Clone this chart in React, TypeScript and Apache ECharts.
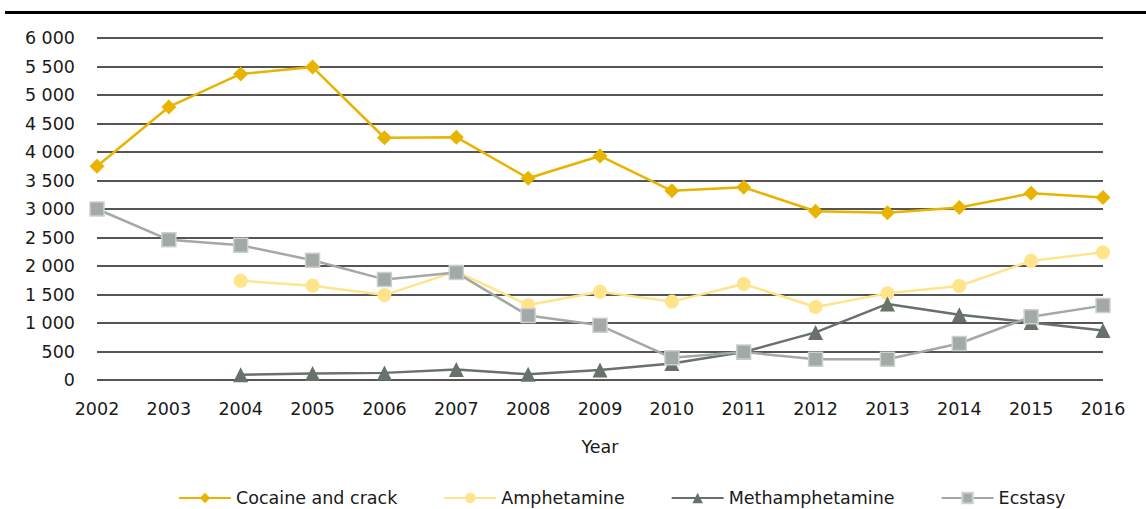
import React, { useEffect, useRef } from "react";
import * as echarts from "echarts";

const years = ["2002", "2003", "2004", "2005", "2006", "2007", "2008", "2009", "2010", "2011", "2012", "2013", "2014", "2015", "2016"];
const cocaine = [3750, 4790, 5370, 5490, 4250, 4260, 3540, 3930, 3320, 3380, 2960, 2935, 3025, 3275, 3200];
const amphetamine = [null, null, 1740, 1655, 1490, 1905, 1315, 1550, 1375, 1685, 1280, 1520, 1650, 2090, 2240];
const methamphetamine = [null, null, 90, 115, 125, 185, 100, 175, 290, 490, 835, 1335, 1145, 1010, 870];
const ecstasy = [3000, 2460, 2365, 2100, 1765, 1885, 1130, 960, 390, 490, 365, 365, 640, 1110, 1305];

const FONT = "DejaVu Sans";

export default function App() {
  const ref = useRef<HTMLDivElement>(null);
  useEffect(() => {
    if (!ref.current) return;
    const chart = echarts.init(ref.current, null, { renderer: "svg" });
    chart.setOption({
      animation: false,
      backgroundColor: "#ffffff",
      textStyle: { fontFamily: FONT },
      graphic: [
        {
          type: "rect",
          left: 5,
          top: 11,
          shape: { width: 1141, height: 3 },
          style: { fill: "#000000" },
        },
      ],
      grid: { left: 97, right: 43, top: 38, bottom: 129 },
      legend: {
        left: 173,
        top: 484,
        itemWidth: 52,
        itemHeight: 13,
        itemGap: 46,
        textStyle: { fontFamily: FONT, fontSize: 17.5, color: "#1a1a1a" },
        data: ["Cocaine and crack", "Amphetamine", "Methamphetamine", "Ecstasy"],
      },
      xAxis: {
        type: "category",
        data: years,
        boundaryGap: false,
        name: "Year",
        nameLocation: "middle",
        nameGap: 58,
        nameTextStyle: { fontFamily: FONT, fontSize: 17.5, color: "#1a1a1a" },
        axisLine: { show: false },
        axisTick: { show: false },
        axisLabel: { fontFamily: FONT, fontSize: 17.5, color: "#1a1a1a", margin: 20 },
      },
      yAxis: {
        type: "value",
        min: 0,
        max: 6000,
        interval: 500,
        axisLine: { show: false },
        axisTick: { show: false },
        splitLine: { lineStyle: { color: "#1c1c1c", width: 1.6 } },
        axisLabel: {
          fontFamily: FONT,
          fontSize: 17.5,
          color: "#1a1a1a",
          margin: 22,
          formatter: (v: number) => String(v).replace(/\B(?=(\d{3})+(?!\d))/g, " "),
        },
      },
      series: [
        {
          name: "Cocaine and crack",
          type: "line",
          data: cocaine,
          symbol: "diamond",
          symbolSize: 15,
          lineStyle: { color: "#E8B400", width: 2.5 },
          itemStyle: { color: "#E8B400" },
        },
        {
          name: "Amphetamine",
          type: "line",
          data: amphetamine,
          symbol: "circle",
          symbolSize: 14,
          lineStyle: { color: "#FFE48C", width: 2.5 },
          itemStyle: { color: "#FFE48C" },
        },
        {
          name: "Methamphetamine",
          type: "line",
          data: methamphetamine,
          symbol: "triangle",
          symbolSize: 15,
          lineStyle: { color: "#68716A", width: 2.5 },
          itemStyle: { color: "#68716A" },
        },
        {
          name: "Ecstasy",
          type: "line",
          data: ecstasy,
          symbol: "rect",
          symbolSize: 14,
          lineStyle: { color: "#A3A9A5", width: 2.5 },
          itemStyle: { color: "#A3A9A5", borderColor: "#CDD1CE", borderWidth: 1.5 },
        },
      ],
    });
    return () => chart.dispose();
  }, []);
  return (
    <div
      ref={ref}
      style={{ position: "absolute", left: 0, top: 0, width: 1146, height: 509 }}
    />
  );
}
